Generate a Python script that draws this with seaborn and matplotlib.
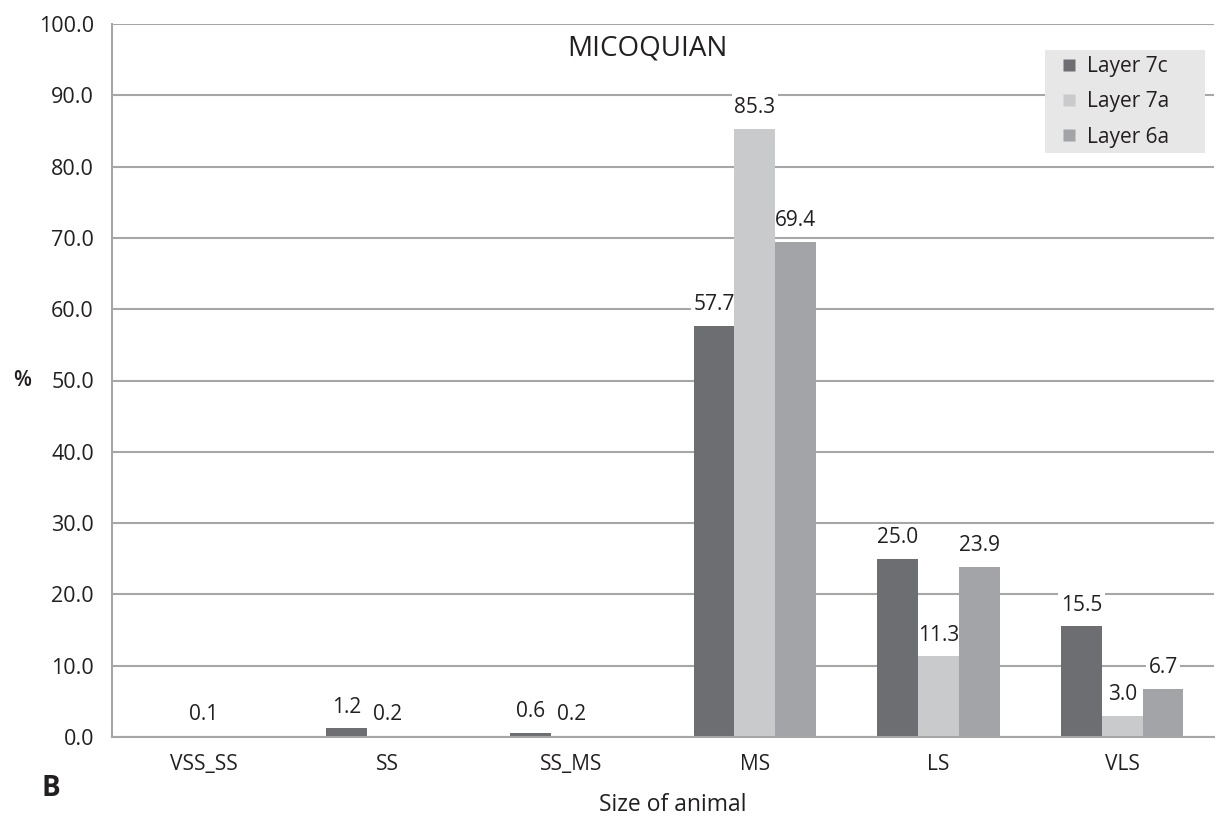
import numpy as np
import pandas as pd
import seaborn as sns
import matplotlib.pyplot as plt
from matplotlib.lines import Line2D
from matplotlib.patches import Rectangle
from matplotlib.ticker import FixedLocator

sizes = ['VSS_SS', 'SS', 'SS_MS', 'MS', 'LS', 'VLS']
layers = ['Layer 7c', 'Layer 7a', 'Layer 6a']
layer_7c = [np.nan, 1.2, 0.6, 57.7, 25.0, 15.5]
layer_7a = [0.1, 0.2, 0.2, 85.3, 11.3, 3.0]
layer_6a = [np.nan, np.nan, np.nan, 69.4, 23.9, 6.7]
colors = ['#6d6e71', '#c9cacc', '#a3a4a7']

rows = []
for layer, vals in zip(layers, [layer_7c, layer_7a, layer_6a]):
    for s, v in zip(sizes, vals):
        rows.append({'size': s, 'layer': layer, 'pct': v})
df = pd.DataFrame(rows)

sns.set_style('white')
plt.rcParams['font.family'] = ['Open Sans', 'DejaVu Sans']
text_col = '#231f20'
grid_col = '#a6a6a6'

W, H = 1224, 816
fig = plt.figure(figsize=(W / 100, H / 100), dpi=100)
ax = fig.add_axes([112 / W, 1 - 737 / H, 1102 / W, 713 / H])

plot_df = df.fillna(0)
sns.barplot(data=plot_df, x='size', y='pct', hue='layer', order=sizes, hue_order=layers,
            palette=colors, width=0.667, errorbar=None, saturation=1, ax=ax,
            linewidth=0, legend=False)

# data labels on white boxes: above the gridlines but under the bars
for cont, layer in zip(ax.containers, layers):
    vals = df[df.layer == layer].set_index('size').loc[sizes, 'pct'].values
    for bar, v in zip(cont, vals):
        if np.isnan(v):
            continue
        ax.text(bar.get_x() + bar.get_width() / 2, v + 3.0, f'{v:.1f}',
                ha='center', va='center', fontsize=15, color=text_col, zorder=0.7,
                bbox=dict(facecolor='white', edgecolor='none', pad=2))

ax.set_ylim(0, 100)
ax.set_xlim(-0.5, len(sizes) - 0.5)
ax.set_yticks(np.arange(0, 101, 10))
ax.set_yticklabels([f'{t:.1f}' for t in np.arange(0, 101, 10)], fontsize=15.5, color=text_col)
ax.set_xticklabels(sizes, fontsize=15, color=text_col)
ax.xaxis.set_minor_locator(FixedLocator(np.arange(-0.5, len(sizes), 1)))
ax.tick_params(axis='x', which='major', length=0, pad=12)
ax.tick_params(axis='x', which='minor', length=6, width=1.5, color=grid_col, direction='out')
ax.tick_params(axis='y', length=6, width=1.5, color=grid_col, direction='out', pad=7)

ax.yaxis.grid(True, color=grid_col, linewidth=1.5)
ax.set_axisbelow(True)
for side in ['top', 'right']:
    ax.spines[side].set_visible(False)
for side in ['left', 'bottom']:
    ax.spines[side].set_color(grid_col)
    ax.spines[side].set_linewidth(1.5)

ax.set_xlabel('')
ax.set_ylabel('')

# legend box drawn separately so it can be as wide as the original
fig.patches.append(Rectangle((1045 / W, 1 - 153 / H), 160 / W, 103 / H,
                             transform=fig.transFigure, facecolor='#e7e7e7',
                             edgecolor='none', zorder=2))
handles = [Line2D([], [], marker='s', linestyle='none', markersize=8,
                  markerfacecolor=c, markeredgecolor='none') for c in colors]
leg = fig.legend(handles, layers, loc='upper left', bbox_to_anchor=(1059 / W, 1 - 56 / H),
                 fontsize=15, frameon=False, handlelength=1.0, handletextpad=0.35,
                 borderpad=0, labelspacing=0.69, borderaxespad=0)
leg.set_zorder(3)
for t in leg.get_texts():
    t.set_color(text_col)

fig.text(647 / W, 1 - 48 / H, 'MICOQUIAN', fontsize=20, color=text_col,
         ha='center', va='center')
fig.text(673 / W, 1 - 805 / H, 'Size of animal', fontsize=16.5, color=text_col,
         ha='center', va='center')
fig.text(22 / W, 1 - 381 / H, '%', fontsize=15, fontweight='semibold',
         color=text_col, ha='center', va='center')
fig.text(51 / W, 1 - 788 / H, 'B', fontsize=20, fontweight='bold',
         color=text_col, ha='center', va='center')

fig.savefig('out.png', dpi=100)
